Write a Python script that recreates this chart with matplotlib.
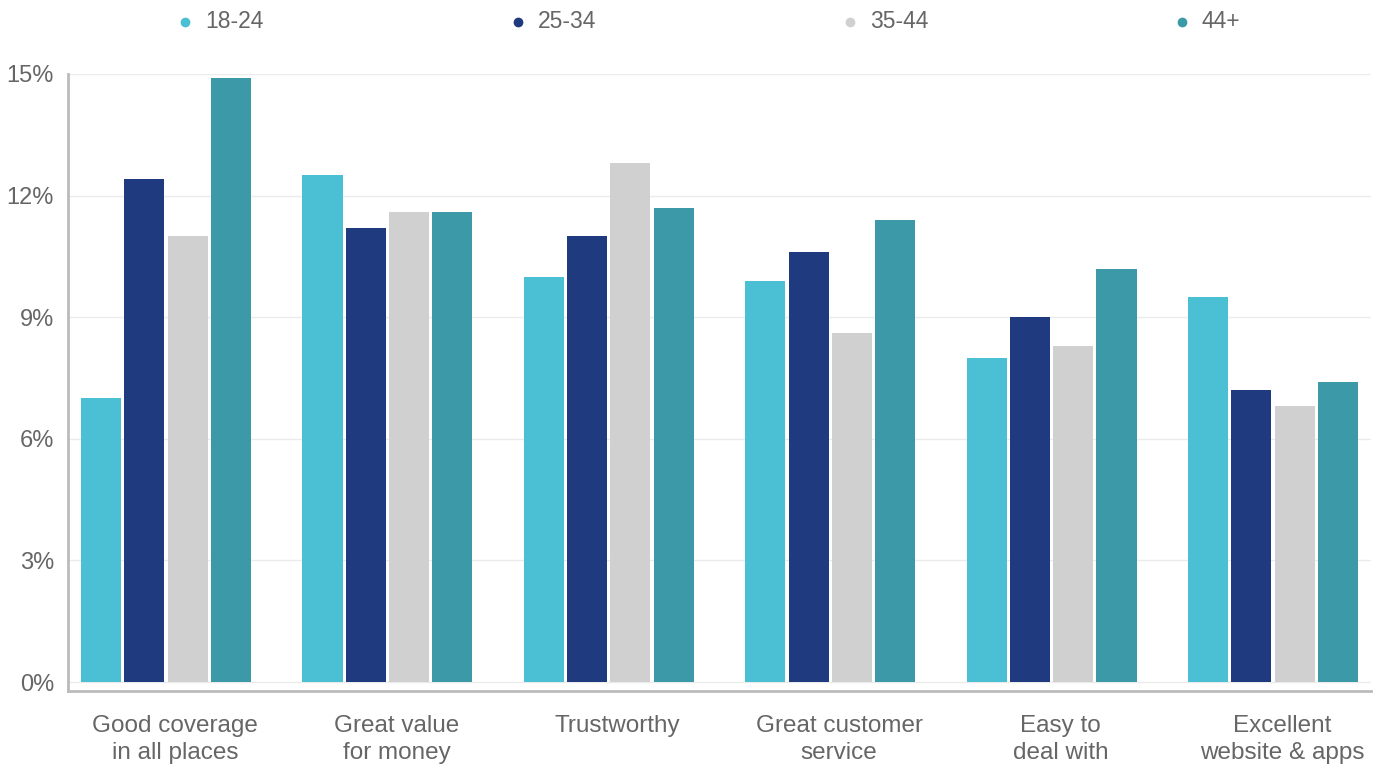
import matplotlib
matplotlib.use('Agg')
import matplotlib.pyplot as plt
from matplotlib.lines import Line2D
from matplotlib.transforms import ScaledTranslation
import numpy as np

plt.rcParams['font.family'] = ['Liberation Sans', 'DejaVu Sans']

# share of respondents per attribute, by age band
categories = ['Good coverage\nin all places', 'Great value\nfor money', 'Trustworthy',
              'Great customer\nservice', 'Easy to\ndeal with', 'Excellent\nwebsite & apps']
age_groups = ['18-24', '25-34', '35-44', '44+']
vals_18_24 = [7.0, 12.5, 10.0, 9.9, 8.0, 9.5]
vals_25_34 = [12.4, 11.2, 11.0, 10.6, 9.0, 7.2]
vals_35_44 = [11.0, 11.6, 12.8, 8.6, 8.3, 6.8]
vals_44_up = [14.9, 11.6, 11.7, 11.4, 10.2, 7.4]
series = [vals_18_24, vals_25_34, vals_35_44, vals_44_up]
colors = ['#4BBFD3', '#1F3A7F', '#D0D0D0', '#3C99A8']
yticks = [0, 3, 6, 9, 12, 15]

txt = '#666666'
fig = plt.figure(figsize=(13.81, 7.65), dpi=100)
ax = fig.add_axes([0.0492, 0.0967, 0.9436, 0.8066])

x = np.arange(len(categories))
w = 0.181
step = 0.1955
for i, (vals, c) in enumerate(zip(series, colors)):
    ax.bar(x + (i - 1.5) * step, vals, width=w, color=c, zorder=3)

ax.set_xlim(-0.443, len(categories) - 1 + 0.443)
ax.set_ylim(-0.22, 15)
ax.set_yticks(yticks)
ax.set_yticklabels([f'{t}%' for t in yticks], fontsize=17, color=txt)
ax.set_xticks(x)
ax.set_xticklabels(categories, fontsize=17.5, color=txt, linespacing=1.3)
ax.tick_params(axis='both', length=0)
ax.tick_params(axis='y', pad=10)
ax.tick_params(axis='x', pad=17)
# category names sit a little right of the group centre
shift = ScaledTranslation(9 / 100, 0, fig.dpi_scale_trans)
for lbl in ax.get_xticklabels():
    lbl.set_transform(lbl.get_transform() + shift)
ax.grid(axis='y', color='#EBEBEB', linewidth=1, zorder=0)
for s in ['top', 'right']:
    ax.spines[s].set_visible(False)
for s in ['left', 'bottom']:
    ax.spines[s].set_color('#BBBBBB')
    ax.spines[s].set_linewidth(2)

# legend row across the top
leg_x = [185, 518, 850, 1182]
for lx, lab, c in zip(leg_x, age_groups, colors):
    fig.add_artist(Line2D([lx / 1381], [1 - 22 / 765], marker='o', markersize=6,
                          color=c, linestyle='none', transform=fig.transFigure))
    fig.text((lx + 20) / 1381, 1 - 22 / 765, lab, fontsize=16.5, color=txt,
             va='center', ha='left')

fig.savefig('out.png', dpi=100)
